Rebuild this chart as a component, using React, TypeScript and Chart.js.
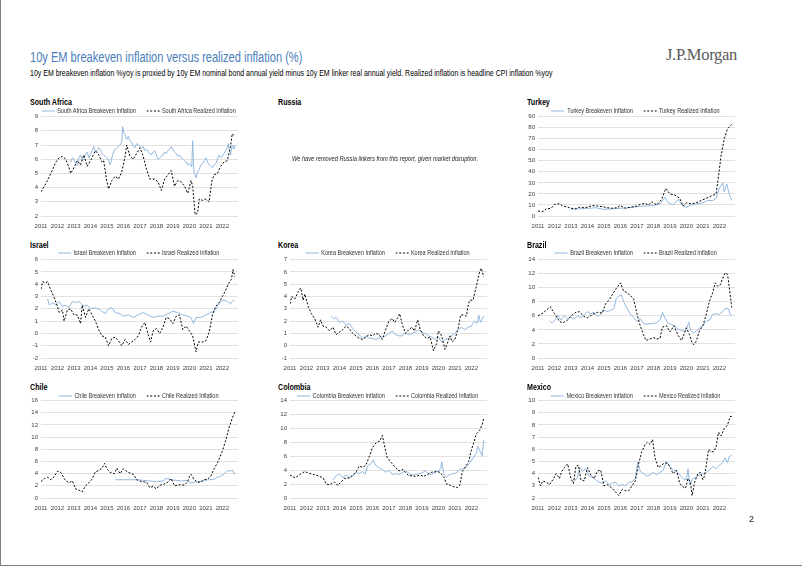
import React, { useEffect, useRef } from "react";
import { Chart, registerables } from "chart.js";

Chart.register(...registerables);

const SANS = "'Liberation Sans', Arial, sans-serif";
const BE_COLOR = "#92b8de";
const RE_COLOR = "#000000";
const SQUEEZE = 0.79;

type Pt = [number, number];

// x-axis tick labels (years)
const yearTicks = [2011, 2012, 2013, 2014, 2015, 2016, 2017, 2018, 2019, 2020, 2021, 2022];

// ---------------- South Africa ----------------
const southAfricaRealized: Pt[] = [
  [2011.0, 3.7], [2011.3, 4.3], [2011.6, 5.0], [2011.9, 5.8], [2012.1, 6.1], [2012.3, 6.2], [2012.5, 6.0],
  [2012.7, 5.4], [2012.8, 5.0], [2013.0, 5.4], [2013.2, 5.9], [2013.4, 5.6], [2013.6, 6.3], [2013.8, 5.5],
  [2014.0, 5.9], [2014.3, 6.6], [2014.5, 6.3], [2014.7, 5.8], [2014.8, 5.9], [2015.0, 4.4], [2015.1, 3.9],
  [2015.3, 4.5], [2015.5, 4.8], [2015.7, 4.6], [2015.9, 5.1], [2016.1, 6.2], [2016.2, 7.0], [2016.4, 6.2],
  [2016.6, 6.0], [2016.8, 6.4], [2017.0, 6.8], [2017.2, 6.2], [2017.4, 5.3], [2017.6, 4.6], [2017.9, 4.6],
  [2018.1, 4.4], [2018.3, 3.8], [2018.5, 4.6], [2018.7, 4.9], [2018.9, 5.2], [2019.1, 4.1], [2019.3, 4.5],
  [2019.5, 4.4], [2019.7, 4.1], [2019.9, 3.6], [2020.1, 4.5], [2020.2, 4.1], [2020.35, 2.1], [2020.5, 2.2],
  [2020.6, 3.2], [2020.8, 3.1], [2021.0, 3.2], [2021.2, 3.0], [2021.35, 4.4], [2021.5, 4.9], [2021.7, 5.0],
  [2021.9, 5.5], [2022.1, 5.8], [2022.3, 5.9], [2022.5, 6.9], [2022.6, 7.8], [2022.75, 7.6],
];
const southAfricaBreakeven: Pt[] = [
  [2012.8, 5.8], [2012.9, 6.1], [2013.0, 6.0], [2013.1, 5.7], [2013.2, 5.6], [2013.3, 6.1], [2013.4, 6.3],
  [2013.5, 5.9], [2013.6, 6.0], [2013.7, 6.4], [2013.8, 6.5], [2013.9, 6.1], [2014.0, 6.3], [2014.1, 6.6],
  [2014.2, 6.9], [2014.3, 6.5], [2014.4, 6.6], [2014.5, 6.8], [2014.6, 6.7], [2014.7, 6.4], [2014.8, 6.3],
  [2014.9, 6.2], [2015.0, 6.1], [2015.1, 5.9], [2015.2, 5.6], [2015.3, 6.1], [2015.4, 6.5], [2015.5, 6.7],
  [2015.6, 6.8], [2015.7, 6.9], [2015.8, 7.0], [2015.9, 7.2], [2015.95, 8.3], [2016.05, 7.8], [2016.1, 7.7],
  [2016.2, 7.4], [2016.3, 7.6], [2016.4, 7.3], [2016.5, 7.2], [2016.6, 6.9], [2016.7, 6.8], [2016.8, 7.1],
  [2016.9, 7.0], [2017.0, 6.9], [2017.1, 6.8], [2017.2, 6.9], [2017.3, 6.6], [2017.4, 6.7], [2017.5, 6.5],
  [2017.6, 6.4], [2017.7, 6.3], [2017.8, 6.5], [2017.9, 6.6], [2018.0, 6.3], [2018.1, 6.0], [2018.2, 6.1],
  [2018.3, 6.2], [2018.4, 6.3], [2018.5, 6.5], [2018.6, 6.4], [2018.7, 6.6], [2018.8, 6.7], [2018.9, 6.9],
  [2019.0, 6.7], [2019.1, 6.5], [2019.2, 6.4], [2019.3, 6.2], [2019.4, 6.3], [2019.5, 6.1], [2019.6, 6.0],
  [2019.7, 5.9], [2019.8, 5.8], [2019.9, 5.6], [2020.0, 5.7], [2020.1, 5.5], [2020.15, 5.6], [2020.2, 7.3],
  [2020.25, 5.6], [2020.3, 5.0], [2020.4, 4.7], [2020.5, 5.1], [2020.6, 5.3], [2020.7, 5.6], [2020.8, 5.7],
  [2020.9, 5.9], [2021.0, 6.1], [2021.1, 5.8], [2021.2, 5.6], [2021.3, 5.5], [2021.4, 5.4], [2021.5, 5.6],
  [2021.6, 5.7], [2021.7, 6.0], [2021.8, 6.3], [2021.9, 6.1], [2022.0, 6.2], [2022.1, 6.4], [2022.2, 6.6],
  [2022.3, 6.8], [2022.35, 7.1], [2022.45, 6.5], [2022.5, 6.3], [2022.6, 7.0], [2022.7, 6.7], [2022.75, 7.0],
];

// ---------------- Turkey ----------------
const turkeyRealized: Pt[] = [
  [2011.0, 4.5], [2011.3, 4.0], [2011.5, 6.5], [2011.8, 7.0], [2012.0, 10.5], [2012.3, 11.0], [2012.5, 9.0],
  [2012.8, 8.0], [2013.0, 7.0], [2013.3, 6.5], [2013.5, 8.0], [2013.8, 7.5], [2014.0, 8.0], [2014.3, 9.5],
  [2014.6, 9.0], [2014.9, 8.5], [2015.2, 7.5], [2015.5, 7.0], [2015.8, 7.5], [2016.0, 9.5], [2016.3, 7.0],
  [2016.6, 8.0], [2016.9, 8.5], [2017.2, 10.5], [2017.5, 11.5], [2017.7, 10.0], [2017.9, 13.0], [2018.2, 10.0],
  [2018.5, 15.0], [2018.75, 25.0], [2019.0, 20.0], [2019.3, 19.0], [2019.6, 16.0], [2019.8, 9.0], [2020.0, 12.0],
  [2020.3, 11.0], [2020.6, 12.0], [2020.9, 14.0], [2021.2, 16.0], [2021.5, 18.0], [2021.8, 20.0], [2021.95, 36.0],
  [2022.1, 54.0], [2022.3, 70.0], [2022.5, 79.0], [2022.75, 83.0],
];
const turkeyBreakeven: Pt[] = [
  [2013.0, 6.0], [2013.5, 6.5], [2014.0, 7.0], [2014.5, 7.5], [2015.0, 6.0], [2015.5, 6.5], [2016.0, 7.0],
  [2016.5, 7.5], [2017.0, 8.5], [2017.5, 9.0], [2018.0, 9.5], [2018.4, 11.0], [2018.7, 17.0], [2018.9, 12.0],
  [2019.2, 10.0], [2019.5, 15.0], [2019.8, 9.0], [2020.0, 8.0], [2020.3, 10.0], [2020.6, 11.0], [2021.0, 12.0],
  [2021.3, 14.0], [2021.6, 14.0], [2021.8, 16.0], [2022.0, 25.0], [2022.2, 30.0], [2022.3, 22.0], [2022.45, 29.0],
  [2022.6, 20.0], [2022.75, 14.0],
];

// ---------------- Israel ----------------
const israelRealized: Pt[] = [
  [2011.0, 3.6], [2011.1, 4.2], [2011.25, 4.1], [2011.4, 4.2], [2011.6, 3.5], [2011.8, 2.9], [2012.0, 2.2],
  [2012.1, 1.7], [2012.3, 1.9], [2012.4, 1.0], [2012.6, 1.9], [2012.8, 2.0], [2013.0, 1.5], [2013.2, 1.5],
  [2013.4, 0.8], [2013.5, 2.3], [2013.7, 1.3], [2013.9, 2.0], [2014.1, 1.5], [2014.3, 1.0], [2014.5, 0.3],
  [2014.7, -0.2], [2014.9, -0.3], [2015.1, -1.0], [2015.3, -0.4], [2015.5, -0.3], [2015.7, -0.6], [2015.9, -1.0],
  [2016.1, -0.5], [2016.3, -0.9], [2016.5, -0.7], [2016.7, -0.5], [2016.9, -0.2], [2017.1, 0.5], [2017.3, 0.9],
  [2017.5, -0.1], [2017.65, -0.7], [2017.8, 0.2], [2018.0, 0.4], [2018.2, 0.0], [2018.4, 0.5], [2018.6, 1.3],
  [2018.8, 1.2], [2019.0, 0.8], [2019.2, 1.4], [2019.4, 1.5], [2019.6, 0.3], [2019.8, 0.6], [2020.0, 0.2],
  [2020.2, -0.2], [2020.4, -1.5], [2020.55, -0.7], [2020.8, -0.7], [2021.0, -0.6], [2021.2, 0.1], [2021.4, 1.5],
  [2021.6, 2.2], [2021.8, 2.5], [2022.0, 3.0], [2022.2, 3.5], [2022.4, 4.1], [2022.55, 4.4], [2022.65, 5.2],
  [2022.75, 4.6],
];
const israelBreakeven: Pt[] = [
  [2011.4, 2.8], [2011.5, 2.3], [2011.7, 2.5], [2011.9, 2.3], [2012.1, 2.6], [2012.3, 2.2], [2012.5, 2.3],
  [2012.7, 2.1], [2012.9, 2.6], [2013.1, 2.5], [2013.3, 2.6], [2013.6, 2.2], [2013.8, 2.3], [2014.0, 2.0],
  [2014.3, 2.1], [2014.6, 1.9], [2014.9, 1.6], [2015.1, 2.0], [2015.3, 2.1], [2015.5, 1.7], [2015.8, 1.6],
  [2016.0, 1.4], [2016.3, 1.5], [2016.6, 1.3], [2016.9, 1.5], [2017.2, 1.7], [2017.5, 1.5], [2017.8, 1.3],
  [2018.1, 1.4], [2018.4, 1.4], [2018.7, 1.6], [2019.0, 1.8], [2019.3, 1.7], [2019.6, 1.5], [2019.9, 1.4],
  [2020.1, 1.3], [2020.25, 0.8], [2020.4, 1.3], [2020.7, 1.3], [2021.0, 1.5], [2021.3, 1.7], [2021.5, 1.8],
  [2021.7, 2.2], [2021.9, 2.6], [2022.1, 2.7], [2022.3, 2.6], [2022.5, 2.4], [2022.6, 2.6], [2022.75, 2.7],
];

// ---------------- Korea ----------------
const koreaRealized: Pt[] = [
  [2011.0, 3.4], [2011.1, 4.0], [2011.3, 3.8], [2011.5, 4.4], [2011.65, 4.7], [2011.8, 3.7], [2011.9, 4.2],
  [2012.1, 3.2], [2012.3, 2.6], [2012.5, 2.2], [2012.7, 1.5], [2012.85, 2.1], [2013.0, 1.6], [2013.2, 1.5],
  [2013.4, 1.2], [2013.6, 1.5], [2013.8, 0.9], [2014.0, 1.1], [2014.2, 1.3], [2014.4, 1.6], [2014.6, 1.4],
  [2014.8, 1.0], [2015.0, 0.8], [2015.2, 0.6], [2015.4, 0.5], [2015.6, 0.7], [2015.8, 0.9], [2016.0, 0.8],
  [2016.2, 1.0], [2016.4, 0.9], [2016.6, 0.5], [2016.8, 1.3], [2017.0, 2.0], [2017.2, 2.2], [2017.35, 1.9],
  [2017.5, 2.2], [2017.65, 2.6], [2017.8, 1.8], [2018.0, 1.0], [2018.2, 1.3], [2018.4, 1.5], [2018.55, 1.2],
  [2018.75, 2.1], [2018.9, 1.3], [2019.1, 0.8], [2019.3, 0.6], [2019.5, 0.7], [2019.7, -0.4], [2019.9, 0.2],
  [2020.0, 1.2], [2020.2, 0.8], [2020.4, -0.3], [2020.55, 0.2], [2020.7, 0.8], [2020.85, 0.3], [2021.0, 0.5],
  [2021.2, 1.4], [2021.35, 2.5], [2021.55, 2.5], [2021.7, 2.4], [2021.8, 3.2], [2021.9, 3.7], [2022.1, 3.7],
  [2022.3, 4.8], [2022.5, 6.0], [2022.6, 6.3], [2022.75, 5.6],
];
const koreaBreakeven: Pt[] = [
  [2013.5, 2.4], [2013.65, 2.2], [2013.8, 2.3], [2014.0, 1.9], [2014.2, 2.0], [2014.4, 1.7], [2014.6, 1.8],
  [2014.8, 1.4], [2015.0, 1.1], [2015.2, 0.9], [2015.4, 0.6], [2015.6, 0.8], [2015.8, 0.6], [2016.0, 0.6],
  [2016.2, 0.5], [2016.4, 0.6], [2016.6, 0.7], [2016.8, 0.8], [2017.0, 1.0], [2017.2, 1.2], [2017.4, 0.9],
  [2017.6, 0.8], [2017.8, 0.8], [2018.0, 1.0], [2018.2, 0.9], [2018.4, 1.0], [2018.6, 1.1], [2018.8, 1.3],
  [2019.0, 1.1], [2019.2, 1.0], [2019.4, 0.8], [2019.6, 0.7], [2019.8, 0.5], [2020.0, 0.7], [2020.2, 0.3],
  [2020.4, 0.5], [2020.6, 0.6], [2020.8, 0.8], [2021.0, 1.0], [2021.2, 1.3], [2021.4, 1.5], [2021.6, 1.3],
  [2021.8, 1.5], [2022.0, 1.6], [2022.2, 2.0], [2022.35, 1.8], [2022.45, 2.5], [2022.55, 1.9], [2022.75, 2.4],
];

// ---------------- Brazil ----------------
const brazilRealized: Pt[] = [
  [2011.0, 6.0], [2011.3, 6.4], [2011.6, 7.0], [2011.75, 7.3], [2012.0, 6.3], [2012.3, 5.2], [2012.5, 5.0],
  [2012.8, 5.4], [2013.0, 6.0], [2013.3, 6.5], [2013.5, 6.6], [2013.8, 5.9], [2014.0, 5.7], [2014.3, 6.2],
  [2014.6, 6.5], [2014.9, 6.4], [2015.1, 7.7], [2015.3, 8.2], [2015.5, 9.0], [2015.75, 9.9], [2016.0, 10.7],
  [2016.2, 9.5], [2016.4, 9.3], [2016.6, 8.9], [2016.8, 8.4], [2017.0, 6.3], [2017.2, 4.6], [2017.4, 3.3],
  [2017.55, 2.5], [2017.8, 2.7], [2018.0, 2.9], [2018.2, 2.7], [2018.4, 2.8], [2018.55, 4.4], [2018.8, 4.6],
  [2019.0, 3.7], [2019.25, 4.6], [2019.5, 3.2], [2019.7, 2.5], [2019.85, 3.3], [2020.0, 4.3], [2020.2, 3.3],
  [2020.35, 2.1], [2020.45, 1.9], [2020.6, 2.4], [2020.8, 3.9], [2021.0, 4.6], [2021.2, 6.1], [2021.4, 8.1],
  [2021.6, 9.3], [2021.75, 10.7], [2021.9, 10.2], [2022.05, 10.4], [2022.2, 11.3], [2022.35, 12.1],
  [2022.5, 11.9], [2022.6, 10.1], [2022.75, 7.2],
];
const brazilBreakeven: Pt[] = [
  [2011.7, 5.3], [2011.85, 5.0], [2012.0, 5.3], [2012.2, 6.1], [2012.4, 5.4], [2012.6, 6.0], [2012.8, 5.6],
  [2013.0, 5.8], [2013.2, 5.6], [2013.4, 6.0], [2013.6, 5.7], [2013.8, 6.1], [2014.0, 6.6], [2014.2, 6.3],
  [2014.4, 6.5], [2014.6, 5.9], [2014.8, 6.2], [2015.0, 6.8], [2015.2, 6.6], [2015.4, 6.8], [2015.6, 7.0],
  [2015.75, 8.5], [2015.9, 8.8], [2016.05, 9.0], [2016.2, 8.0], [2016.4, 7.0], [2016.6, 6.3], [2016.8, 5.8],
  [2017.0, 5.2], [2017.2, 5.6], [2017.4, 4.9], [2017.6, 4.8], [2017.8, 4.9], [2018.0, 4.9], [2018.2, 5.0],
  [2018.4, 5.4], [2018.55, 6.5], [2018.7, 5.7], [2018.9, 4.9], [2019.1, 4.8], [2019.3, 4.5], [2019.5, 4.1],
  [2019.7, 3.9], [2019.9, 3.8], [2020.05, 4.4], [2020.15, 5.1], [2020.25, 3.9], [2020.4, 3.6], [2020.6, 3.8],
  [2020.8, 4.3], [2021.0, 4.6], [2021.2, 5.2], [2021.4, 5.4], [2021.6, 6.2], [2021.8, 6.3], [2022.0, 6.2],
  [2022.2, 6.6], [2022.4, 7.1], [2022.55, 7.0], [2022.65, 6.2], [2022.75, 6.0],
];

// ---------------- Chile ----------------
const chileRealized: Pt[] = [
  [2011.0, 2.7], [2011.2, 3.2], [2011.4, 3.4], [2011.6, 3.0], [2011.8, 3.5], [2012.0, 4.4], [2012.2, 4.2],
  [2012.45, 3.0], [2012.7, 2.5], [2012.9, 2.8], [2013.1, 1.5], [2013.3, 1.3], [2013.5, 1.0], [2013.7, 2.0],
  [2013.9, 2.5], [2014.1, 3.1], [2014.3, 4.3], [2014.5, 4.5], [2014.7, 4.9], [2014.85, 5.7], [2015.0, 4.8],
  [2015.2, 4.2], [2015.45, 4.0], [2015.6, 4.9], [2015.8, 4.0], [2016.0, 4.8], [2016.3, 4.2], [2016.6, 3.9],
  [2016.85, 2.9], [2017.1, 2.7], [2017.4, 2.6], [2017.6, 1.7], [2017.8, 1.9], [2018.0, 1.5], [2018.2, 2.1],
  [2018.4, 2.2], [2018.7, 2.6], [2018.9, 3.2], [2019.1, 2.0], [2019.3, 2.1], [2019.5, 2.2], [2019.7, 2.1],
  [2019.9, 2.7], [2020.0, 3.5], [2020.1, 3.9], [2020.3, 3.0], [2020.5, 2.6], [2020.7, 2.6], [2020.9, 3.0],
  [2021.1, 3.1], [2021.3, 3.6], [2021.5, 4.8], [2021.7, 5.8], [2021.85, 6.7], [2022.0, 7.7], [2022.2, 9.4],
  [2022.4, 11.5], [2022.6, 13.1], [2022.75, 14.1],
];
const chileBreakeven: Pt[] = [
  [2015.5, 3.0], [2016.0, 3.0], [2016.5, 3.0], [2016.9, 3.0], [2017.2, 2.9], [2017.6, 2.8], [2018.0, 2.7],
  [2018.4, 2.8], [2018.6, 3.2], [2018.9, 3.0], [2019.2, 2.9], [2019.5, 2.8], [2019.8, 2.9], [2020.1, 2.5],
  [2020.3, 2.6], [2020.6, 2.7], [2020.9, 2.9], [2021.2, 3.0], [2021.5, 3.1], [2021.7, 3.4], [2021.9, 3.6],
  [2022.1, 3.9], [2022.3, 4.5], [2022.5, 4.4], [2022.6, 4.6], [2022.75, 3.9],
];

// ---------------- Colombia ----------------
const colombiaRealized: Pt[] = [
  [2011.0, 3.3], [2011.3, 2.9], [2011.6, 3.4], [2011.9, 3.8], [2012.1, 3.6], [2012.4, 3.4], [2012.7, 3.2],
  [2013.0, 2.9], [2013.2, 2.0], [2013.4, 1.9], [2013.7, 2.3], [2013.9, 1.8], [2014.1, 2.3], [2014.3, 2.8],
  [2014.6, 2.9], [2014.8, 3.3], [2015.0, 3.7], [2015.2, 4.6], [2015.4, 4.4], [2015.6, 4.7], [2015.8, 5.9],
  [2016.0, 7.2], [2016.2, 7.9], [2016.45, 8.2], [2016.6, 9.0], [2016.75, 7.3], [2016.9, 5.8], [2017.1, 5.2],
  [2017.35, 4.5], [2017.6, 3.9], [2017.85, 4.1], [2018.0, 3.7], [2018.2, 3.2], [2018.4, 3.2], [2018.6, 3.1],
  [2018.9, 3.3], [2019.1, 3.1], [2019.35, 3.4], [2019.6, 3.7], [2019.9, 3.8], [2020.1, 3.7], [2020.35, 2.9],
  [2020.5, 2.0], [2020.75, 1.8], [2020.95, 1.6], [2021.15, 1.5], [2021.3, 1.8], [2021.45, 3.8], [2021.65, 4.5],
  [2021.85, 5.3], [2022.0, 6.9], [2022.15, 8.0], [2022.3, 9.2], [2022.5, 9.7], [2022.65, 10.5], [2022.75, 11.4],
];
const colombiaBreakeven: Pt[] = [
  [2013.6, 2.6], [2013.8, 3.2], [2014.0, 3.5], [2014.2, 2.9], [2014.4, 3.3], [2014.6, 2.9], [2014.8, 3.1],
  [2015.0, 3.7], [2015.2, 3.5], [2015.4, 3.8], [2015.55, 3.4], [2015.7, 4.6], [2015.9, 4.9], [2016.05, 5.5],
  [2016.2, 4.7], [2016.4, 4.3], [2016.6, 4.1], [2016.8, 3.7], [2017.0, 4.0], [2017.2, 3.4], [2017.4, 3.5],
  [2017.6, 3.4], [2017.8, 3.6], [2018.0, 3.9], [2018.2, 3.6], [2018.4, 3.3], [2018.6, 3.4], [2018.8, 3.5],
  [2019.0, 3.6], [2019.2, 3.9], [2019.4, 3.5], [2019.6, 3.4], [2019.8, 3.7], [2020.0, 3.9], [2020.15, 4.3],
  [2020.2, 5.2], [2020.35, 3.3], [2020.5, 3.0], [2020.7, 3.4], [2020.9, 3.5], [2021.1, 3.6], [2021.3, 4.1],
  [2021.5, 4.2], [2021.7, 4.5], [2021.9, 5.0], [2022.1, 5.7], [2022.3, 6.5], [2022.4, 7.4], [2022.55, 6.6],
  [2022.65, 6.1], [2022.75, 8.3],
];

// ---------------- Mexico ----------------
const mexicoRealized: Pt[] = [
  [2011.0, 3.7], [2011.15, 3.0], [2011.3, 3.4], [2011.5, 3.3], [2011.7, 3.1], [2011.9, 3.5], [2012.1, 4.0],
  [2012.3, 3.6], [2012.45, 4.2], [2012.6, 4.5], [2012.8, 4.8], [2013.0, 3.6], [2013.15, 3.2], [2013.3, 4.6],
  [2013.45, 4.7], [2013.6, 3.5], [2013.8, 3.4], [2014.0, 4.5], [2014.2, 3.9], [2014.4, 3.6], [2014.6, 4.2],
  [2014.8, 4.3], [2015.0, 3.0], [2015.2, 3.1], [2015.5, 2.8], [2015.7, 2.5], [2015.9, 2.2], [2016.1, 2.7],
  [2016.3, 2.6], [2016.5, 2.6], [2016.7, 3.0], [2016.9, 3.4], [2017.1, 4.8], [2017.3, 5.8], [2017.5, 6.4],
  [2017.65, 6.6], [2017.8, 6.4], [2017.95, 6.8], [2018.1, 5.3], [2018.3, 4.5], [2018.5, 4.7], [2018.7, 4.9],
  [2018.9, 4.8], [2019.05, 4.4], [2019.2, 4.0], [2019.4, 4.3], [2019.6, 3.2], [2019.8, 2.9], [2019.95, 2.8],
  [2020.1, 3.6], [2020.25, 3.3], [2020.35, 2.2], [2020.5, 3.3], [2020.7, 4.0], [2020.85, 4.1], [2021.0, 3.5],
  [2021.1, 3.8], [2021.35, 6.0], [2021.5, 5.8], [2021.65, 5.8], [2021.8, 6.2], [2021.95, 7.4], [2022.1, 7.1],
  [2022.3, 7.7], [2022.5, 8.0], [2022.65, 8.7], [2022.75, 8.7],
];
const mexicoBreakeven: Pt[] = [
  [2013.2, 3.4], [2013.4, 3.7], [2013.55, 4.5], [2013.7, 4.2], [2013.9, 4.4], [2014.1, 3.8], [2014.3, 3.7],
  [2014.5, 3.5], [2014.7, 3.3], [2014.9, 3.2], [2015.1, 3.4], [2015.3, 3.1], [2015.5, 3.2], [2015.7, 3.3],
  [2015.9, 3.0], [2016.1, 3.1], [2016.3, 3.0], [2016.5, 3.3], [2016.7, 3.3], [2016.9, 3.6], [2017.05, 5.0],
  [2017.2, 4.2], [2017.4, 4.0], [2017.6, 3.8], [2017.8, 3.9], [2018.0, 4.1], [2018.2, 3.9], [2018.4, 4.1],
  [2018.6, 4.3], [2018.8, 5.0], [2019.0, 4.6], [2019.2, 4.3], [2019.4, 4.2], [2019.6, 3.9], [2019.8, 3.6],
  [2020.0, 3.5], [2020.1, 4.4], [2020.2, 3.1], [2020.4, 3.6], [2020.6, 3.7], [2020.8, 3.9], [2021.0, 4.0],
  [2021.2, 4.1], [2021.4, 4.3], [2021.6, 4.6], [2021.8, 4.4], [2022.0, 4.7], [2022.2, 4.9], [2022.35, 5.3],
  [2022.5, 4.9], [2022.6, 5.4], [2022.75, 5.5],
];

// ---------------- layout ----------------
const COL_PLOT_LEFT = [40.5, 290, 537.5];
const COL_TITLE_LEFT = [30, 278, 526.5];
const ROW_TITLE_Y = [102, 245, 387];
const ROW_LEGEND_Y = [111, 253, 396];
const ROW_PLOT_TOP = [116, 259, 400];
const ROW_PLOT_BOTTOM = [216, 357.5, 498];
const Y_AXIS_W = 18;
const PLOT_W = 197;
const PAD_TOP = 6;
const PAD_BOTTOM = 1;
const X_AXIS_H = 14;
const X_TICK_PAD = 6.5;
const TICK_FONT = 6;

interface PanelDef {
  country: string;
  row: number;
  col: number;
  breakeven?: Pt[];
  realized?: Pt[];
  yMin?: number;
  yMax?: number;
  yStep?: number;
}

const panels: PanelDef[] = [
  { country: "South Africa", row: 0, col: 0, breakeven: southAfricaBreakeven, realized: southAfricaRealized, yMin: 2, yMax: 9, yStep: 1 },
  { country: "Russia", row: 0, col: 1 },
  { country: "Turkey", row: 0, col: 2, breakeven: turkeyBreakeven, realized: turkeyRealized, yMin: 0, yMax: 90, yStep: 10 },
  { country: "Israel", row: 1, col: 0, breakeven: israelBreakeven, realized: israelRealized, yMin: -2, yMax: 6, yStep: 1 },
  { country: "Korea", row: 1, col: 1, breakeven: koreaBreakeven, realized: koreaRealized, yMin: -1, yMax: 7, yStep: 1 },
  { country: "Brazil", row: 1, col: 2, breakeven: brazilBreakeven, realized: brazilRealized, yMin: 0, yMax: 14, yStep: 2 },
  { country: "Chile", row: 2, col: 0, breakeven: chileBreakeven, realized: chileRealized, yMin: 0, yMax: 16, yStep: 2 },
  { country: "Colombia", row: 2, col: 1, breakeven: colombiaBreakeven, realized: colombiaRealized, yMin: 0, yMax: 14, yStep: 2 },
  { country: "Mexico", row: 2, col: 2, breakeven: mexicoBreakeven, realized: mexicoRealized, yMin: 2, yMax: 10, yStep: 1 },
];

const toXY = (pts: Pt[]) => pts.map(([x, y]) => ({ x, y }));

function LegendItem({ dashed, label }: { dashed: boolean; label: string }) {
  return (
    <div style={{ display: "flex", alignItems: "center", whiteSpace: "nowrap" }}>
      <svg width={17} height={4} style={{ marginRight: 3, flex: "none" }}>
        <line x1={0} y1={2} x2={17} y2={2} stroke={dashed ? RE_COLOR : BE_COLOR}
          strokeWidth={1.2} strokeDasharray={dashed ? "2.5 2.2" : undefined} />
      </svg>
      <span>{label}</span>
    </div>
  );
}

function Panel({ def }: { def: PanelDef }) {
  const ref = useRef<HTMLCanvasElement | null>(null);
  const plotLeft = COL_PLOT_LEFT[def.col];
  const plotTop = ROW_PLOT_TOP[def.row];
  const plotH = ROW_PLOT_BOTTOM[def.row] - plotTop;
  const canvasW = Y_AXIS_W + PLOT_W + 3;
  const canvasH = Math.round(plotH + PAD_TOP + X_AXIS_H + PAD_BOTTOM);
  const hasChart = !!def.realized;

  useEffect(() => {
    if (!hasChart || !ref.current) return;
    const chart = new Chart(ref.current, {
      type: "line",
      data: {
        datasets: [
          {
            label: `${def.country} Realized Inflation`,
            data: toXY(def.realized!),
            borderColor: RE_COLOR,
            borderWidth: 1,
            borderDash: [2, 1.7],
            pointRadius: 0,
            tension: 0,
            fill: false,
          },
          {
            label: `${def.country} Breakeven Inflation`,
            data: toXY(def.breakeven!),
            borderColor: BE_COLOR,
            borderWidth: 1,
            pointRadius: 0,
            tension: 0,
            fill: false,
          },
        ],
      },
      options: {
        responsive: false,
        animation: false,
        events: [],
        layout: { padding: { top: PAD_TOP, right: 3, bottom: PAD_BOTTOM, left: 0 } },
        plugins: { legend: { display: false }, tooltip: { enabled: false } },
        scales: {
          x: {
            type: "linear",
            min: yearTicks[0],
            max: 2022.95,
            afterFit: (scale: any) => {
              scale.height = X_AXIS_H;
            },
            grid: { display: false, drawTicks: false, tickLength: 0 },
            border: { display: false },
            ticks: {
              stepSize: 1,
              includeBounds: false,
              autoSkip: false,
              maxRotation: 0,
              minRotation: 0,
              padding: X_TICK_PAD,
              color: "#404040",
              font: { family: SANS, size: TICK_FONT },
              callback: (v: any) => (yearTicks.includes(Number(v)) ? String(v) : ""),
            },
          },
          y: {
            type: "linear",
            min: def.yMin,
            max: def.yMax,
            afterFit: (scale: any) => {
              scale.width = Y_AXIS_W;
            },
            grid: { color: "#d9d9d9", lineWidth: 0.8, drawTicks: false, tickLength: 0 },
            border: { display: false },
            ticks: {
              stepSize: def.yStep,
              autoSkip: false,
              padding: 3,
              color: "#404040",
              font: { family: SANS, size: TICK_FONT },
              callback: (v: any) => String(v),
            },
          },
        },
      },
    });
    return () => chart.destroy();
  }, []);

  return (
    <>
      <div style={{ position: "absolute", left: COL_TITLE_LEFT[def.col], top: ROW_TITLE_Y[def.row] - 6,
        fontFamily: SANS, fontWeight: "bold", fontSize: 9, lineHeight: "12px", color: "#000", whiteSpace: "nowrap",
        transform: `scaleX(${SQUEEZE})`, transformOrigin: "0 0" }}>
        {def.country}
      </div>
      {hasChart ? (
        <>
          <div style={{ position: "absolute", left: plotLeft - 60, width: 320, top: ROW_LEGEND_Y[def.row] - 5,
            height: 10, display: "flex", justifyContent: "center", zIndex: 2,
            transform: `scaleX(${SQUEEZE})`, transformOrigin: "50% 50%" }}>
            <div style={{ display: "inline-grid", gridTemplateColumns: "1fr 1fr", columnGap: 13,
              fontFamily: SANS, fontSize: 7, lineHeight: "10px", color: "#333" }}>
              <LegendItem dashed={false} label={`${def.country} Breakeven Inflation`} />
              <LegendItem dashed={true} label={`${def.country} Realized Inflation`} />
            </div>
          </div>
          <canvas ref={ref} width={canvasW} height={canvasH}
            style={{ position: "absolute", left: plotLeft - Y_AXIS_W, top: plotTop - PAD_TOP,
              width: canvasW, height: canvasH }} />
        </>
      ) : (
        <div style={{ position: "absolute", left: 185, width: 400, top: 153, textAlign: "center", whiteSpace: "nowrap",
          fontFamily: SANS, fontStyle: "italic", fontSize: 7.2, lineHeight: "12px", color: "#222",
          transform: `scaleX(${SQUEEZE})`, transformOrigin: "50% 50%" }}>
          We have removed Russia linkers from this report, given market disruption.
        </div>
      )}
    </>
  );
}

export default function App() {
  return (
    <div style={{ position: "absolute", left: 0, top: 0, width: 802, height: 567, background: "#fff", overflow: "hidden" }}>
      <div style={{ position: "absolute", left: 0, top: 0, width: 806, height: 566, borderLeft: "1.5px solid #808080",
        borderBottom: "1.5px solid #808080", boxSizing: "border-box" }} />
      <div style={{ position: "absolute", left: 30, top: 49, fontFamily: SANS, fontSize: 14, lineHeight: "17px",
        color: "#4a7ebb", whiteSpace: "nowrap", transform: `scaleX(${SQUEEZE})`, transformOrigin: "0 0" }}>
        10y EM breakeven inflation versus realized inflation (%)
      </div>
      <div style={{ position: "absolute", left: 30, top: 67, fontFamily: SANS, fontSize: 9, lineHeight: "12px",
        color: "#000", whiteSpace: "nowrap", transform: "scaleX(0.777)", transformOrigin: "0 0" }}>
        10y EM breakeven inflation %yoy is proxied by 10y EM nominal bond annual yield minus 10y EM linker real annual yield. Realized inflation is headline CPI inflation %yoy
      </div>
      <div style={{ position: "absolute", left: 666, top: 45, fontFamily: "'Liberation Serif', 'Times New Roman', serif",
        fontSize: 16.5, lineHeight: "20px", color: "#5a5a5a", letterSpacing: -0.3 }}>
        J.P.Morgan
      </div>
      {panels.map((p) => (
        <Panel key={p.country} def={p} />
      ))}
      <div style={{ position: "absolute", left: 749, top: 513, fontFamily: SANS,
        fontSize: 9, lineHeight: "12px", color: "#222" }}>
        2
      </div>
    </div>
  );
}
